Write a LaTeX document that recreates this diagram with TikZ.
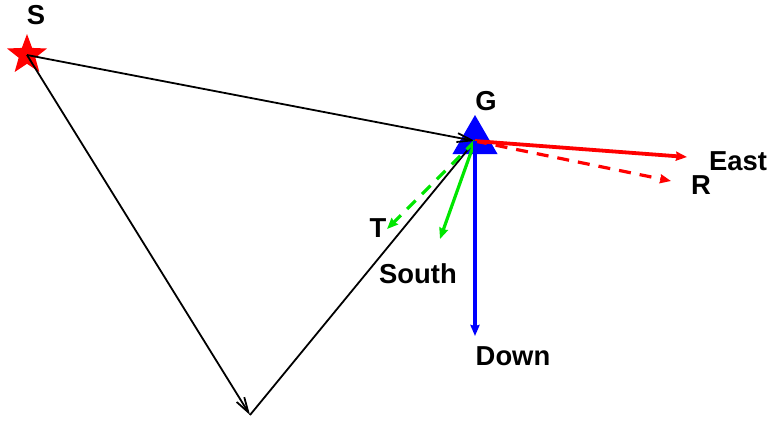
\documentclass[tikz,border=0pt]{standalone}
\usepackage{fontspec}
\setmainfont{Liberation Sans}
\usetikzlibrary{arrows.meta,shapes.geometric}
\definecolor{vred}{RGB}{255,0,0}
\definecolor{vgreen}{RGB}{0,230,0}
\definecolor{vblue}{RGB}{0,0,255}

\begin{document}
\begin{tikzpicture}[x=1bp,y=-1bp,
      lbl/.style={anchor=base,inner sep=0pt,font=\fontsize{27.5}{30}\selectfont\bfseries},
      path/.style={line width=1.8bp,-{Straight Barb[length=15bp,width=9bp]}},
      vec/.style={line width=3.2bp,-{Stealth[length=11bp,width=9bp,inset=1bp]}},
      dvec/.style={vec,dash pattern=on 12bp off 9bp}]
      \useasboundingbox (0,0) rectangle (769,422);
      % source and gauge
      \node[star,star points=5,star point ratio=2.4,fill=vred,inner sep=0pt,minimum size=42bp] (S) at (27,55) {};
      \node[regular polygon,regular polygon sides=3,fill=vblue,inner sep=0pt,minimum size=52bp] (G) at (475,141) {};
      \coordinate (B) at (250,415);
      \coordinate (east) at (687,157);
      \coordinate (r) at (671,181);
      \coordinate (t) at (387,229);
      \coordinate (south) at (440,239);
      \coordinate (down) at (475,336);
      % labels
      \node[lbl] (Slbl) at (36,24) {S};
      \node[lbl] (Glbl) at (486,110) {G};
      \node[lbl] (Elbl) at (738,170) {East};
      \node[lbl] (Rlbl) at (701,194) {R};
      \node[lbl] (Tlbl) at (378,237) {T};
      \node[lbl] (SOlbl) at (418,283) {South};
      \node[lbl] (Dlbl) at (513,365) {Down};
      % ray paths
      \draw[path] (S.center) -- (G.center);
      \draw[path] (S.center) -- (B);
      \draw[line width=1.8bp] (B) -- (G.center);
      % components
      \draw[vec,vred,line width=3.8bp] (G.center) -- (east);
      \draw[dvec,vred] (G.center) -- (r);
      \draw[dvec,vgreen] (G.center) -- (t);
      \draw[vec,vgreen] (G.center) -- (south);
      \draw[vec,vblue] (G.center) -- (down);
    \end{tikzpicture}
\end{document}
